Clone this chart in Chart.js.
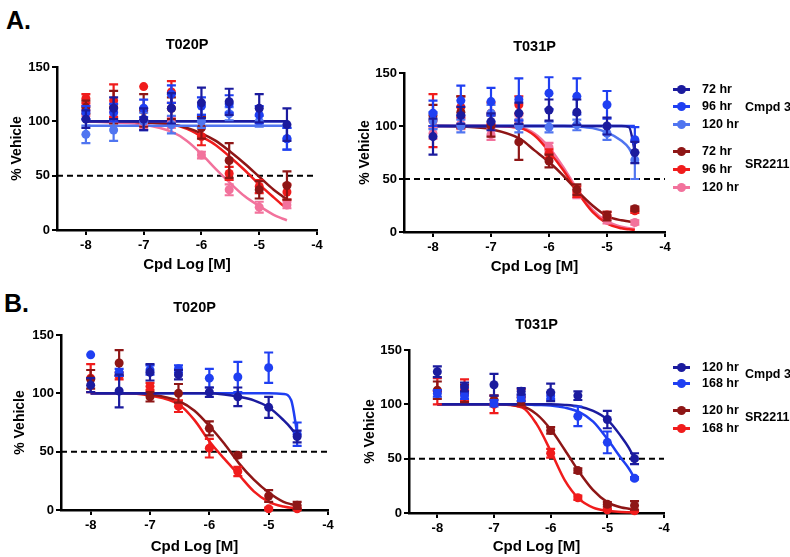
<!DOCTYPE html>
<html>
<head>
<meta charset="utf-8">
<title>Cmpd 3 vs SR2211 dose response</title>
<script src="https://cdn.jsdelivr.net/npm/chart.js@4.4.0/dist/chart.umd.min.js"></script>
<style>
  body { margin: 0; background: #fff; font-family: "Liberation Sans", Arial, sans-serif; }
  #wrap { position: relative; width: 790px; height: 557px; overflow: hidden; }
  #wrap canvas { position: absolute; }
  .tag { position: absolute; font-weight: bold; font-size: 25px; line-height: 25px; }
  .leg { position: absolute; font-weight: bold; font-size: 12.5px; line-height: 14px; white-space: nowrap; }
  .sw-line { position: absolute; width: 17px; height: 3px; }
  .sw-dot { position: absolute; width: 9px; height: 9px; border-radius: 50%; }
</style>
</head>
<body>
<div id="wrap">
  <div class="tag" style="left:6px; top:8px;">A.</div>
  <div class="tag" style="left:4px; top:291px;">B.</div>
  <canvas id="a020" width="330" height="245" style="left:0; top:30px;"></canvas>
  <canvas id="a031" width="330" height="245" style="left:345px; top:30px;"></canvas>
  <canvas id="b020" width="340" height="262" style="left:0; top:295px;"></canvas>
  <canvas id="b031" width="330" height="262" style="left:345px; top:295px;"></canvas>
</div>
<script>
// Dose response data (% vehicle)

// doses (log M) and fitted-curve sample positions
const doses = [-8, -7.52, -7, -6.52, -6, -5.52, -5, -4.52];
const fitX = [-8, -7.5, -7, -6.5, -6.25, -6, -5.75, -5.5, -5.25, -5, -4.75, -4.62, -4.52];
const xTicks = [-8, -7, -6, -5, -4];
const yTicks = [0, 50, 100, 150];

const seriesA = ['72 hr', '96 hr', '120 hr'];
const seriesB = ['120 hr', '168 hr'];
const compounds = ['Cmpd 3', 'SR2211'];

// Panel A, T020P - rows: Cmpd 3 72/96/120 hr, SR2211 72/96/120 hr
const a020Mean = [
    [102, 112, 102, 112, 117, 118, 112, 97],
    [108, 108, 112, 125, 114, 116, 106, 84],
    [88, 92, 100, 97, 100, 107, 100, 84],
    [113, 113, 110, 112, 94, 64, 37, 41],
    [121, 119, 132, 127, 86, 52, 40, 35],
    [110, 104, 97, 99, 69, 37, 21, 23]
];
const a020Sd = [
    [8, 10, 10, 14, 14, 12, 13, 15],
    [6, 8, 8, 8, 8, 8, 8, 10],
    [8, 10, 8, 8, 6, 6, 5, 10],
    [6, 15, 15, 10, 10, 16, 8, 13],
    [4, 15, 0, 10, 8, 6, 6, 7],
    [5, 5, 4, 5, 3, 5, 5, 3]
];
const a020Fit = [
    [100, 100, 100, 100, 100, 100, 100, 100, 100, 100, 100, 100, 100],
    [100, 100, 100, 100, 100, 100, 100, 100, 100, 100, 100, 100, 100],
    [96, 96, 96, 96, 96, 96, 96, 96, 96, 96, 96, 96, 96],
    [100, 100, 99, 97, 94, 89, 82, 72, 61, 49, 37, 32, 28],
    [100, 100, 99, 97, 93, 86, 78, 67, 55, 42, 30, 24, 20],
    [100, 99, 97, 90, 82, 70, 56, 43, 31, 22, 14, 11, 9]
];

// Panel A, T031P
const a031Mean = [
    [90, 110, 104, 112, 115, 113, 100, 75],
    [112, 124, 123, 125, 131, 128, 120, 87],
    [105, 100, 112, 100, 99, 101, 93, 68],
    [110, 113, 100, 85, 67, 40, 15, 22],
    [105, 118, 112, 120, 74, 38, 16, 20],
    [93, 102, 92, 105, 80, 36, 11, 9]
];
const a031Sd = [
    [17, 8, 8, 10, 10, 12, 8, 10],
    [12, 14, 13, 20, 15, 17, 13, 12],
    [8, 6, 8, 6, 5, 5, 6, 18],
    [10, 15, 10, 17, 6, 5, 4, 2],
    [25, 10, 10, 8, 4, 5, 3, 2],
    [5, 5, 5, 5, 4, 4, 3, 2]
];
const a031Fit = [
    [100, 100, 100, 100, 100, 100, 100, 100, 100, 100, 100, 99, 76],
    [100, 100, 100, 100, 100, 100, 100, 100, 100, 100, 100, 100, 100],
    [100, 100, 100, 100, 100, 100, 100, 99.5, 98, 94, 86, 79, 68],
    [100, 99.5, 97, 88, 77, 66, 53, 38, 25, 15, 11, 10, 9],
    [100, 100, 100, 98, 91, 76, 58, 37, 19, 8, 3.5, 2.5, 2],
    [100, 100, 100, 98.5, 93, 80, 61, 39, 21, 10, 5, 3.5, 3]
];

// Panel B, T020P - rows: Cmpd 3 120/168 hr, SR2211 120/168 hr
const b020Mean = [
    [107, 102, 118, 116, 101, 97, 88, 63],
    [133, 118, 120, 121, 113, 114, 122, 65],
    [112, 126, 97, 100, 70, 47, 12, 4],
    [113, 115, 106, 89, 53, 33, 1, 1]
];
const b020Sd = [
    [6, 14, 7, 4, 4, 8, 9, 5],
    [0, 3, 4, 3, 8, 13, 13, 10],
    [8, 11, 4, 8, 6, 2, 5, 3],
    [12, 3, 3, 5, 8, 4, 1, 1]
];
const b020Fit = [
    [100, 100, 100, 100, 100, 100, 99, 97, 94, 88, 77, 70, 63],
    [100, 100, 100, 100, 100, 100, 100, 100, 100, 100, 99.5, 94, 66],
    [100, 100, 99, 93, 85, 72, 57, 40, 26, 15, 7, 5, 4],
    [100, 100, 98, 90, 77, 59, 44, 30, 16, 7, 3, 2, 2]
];

// Panel B, T031P
const b031Mean = [
    [130, 116, 118, 112, 111, 108, 86, 50],
    [110, 108, 101, 106, 108, 89, 65, 32],
    [113, 110, 104, 103, 76, 39, 8, 7],
    [112, 113, 100, 106, 55, 14, 3, 2]
];
const b031Sd = [
    [5, 4, 10, 3, 8, 4, 8, 5],
    [3, 3, 3, 3, 3, 9, 10, 1],
    [8, 8, 4, 4, 3, 2, 2, 4],
    [12, 10, 8, 8, 4, 2, 1, 1]
];
const b031Fit = [
    [100, 100, 100, 100, 100, 100, 99.5, 98, 94, 86, 70, 60, 50],
    [100, 100, 100, 100, 99.5, 99, 97, 93, 84, 68, 50, 41, 32],
    [100, 100, 100, 98, 91, 77, 58, 38, 21, 10, 5, 4, 3],
    [100, 100, 100, 97, 82, 57, 30, 13, 5, 2, 1, 0.7, 0.5]
];

const colorsA = ['#1b1b9e', '#1f3ff2', '#5075f0', '#8e1616', '#f01c1c', '#f2729c'];
const colorsB = ['#1b1b9e', '#1f3ff2', '#8e1616', '#f01c1c'];
const FONT = '"Liberation Sans", Arial, sans-serif';

// error bars drawn just under each point dataset
const errorBars = {
    id: 'errorBars',
    beforeDatasetDraw(chart, args) {
        const ds = chart.data.datasets[args.index];
        if (!ds.errs) return;
        const ctx = chart.ctx;
        const y = chart.scales.y;
        ctx.save();
        ctx.strokeStyle = ds.borderColor;
        ctx.lineWidth = 2.2;
        args.meta.data.forEach((pt, i) => {
            const e = ds.errs[i];
            if (!e) return;
            const v = ds.data[i].y;
            const top = y.getPixelForValue(v + e);
            const bot = y.getPixelForValue(v - e);
            ctx.beginPath();
            ctx.moveTo(pt.x, top); ctx.lineTo(pt.x, bot);
            ctx.moveTo(pt.x - 4.5, top); ctx.lineTo(pt.x + 4.5, top);
            ctx.moveTo(pt.x - 4.5, bot); ctx.lineTo(pt.x + 4.5, bot);
            ctx.stroke();
        });
        ctx.restore();
    }
};

// 50% dashed line and titles
const decor = {
    id: 'decor',
    beforeDatasetsDraw(chart) {
        const {ctx, chartArea: a, scales: {y}} = chart;
        const py = y.getPixelForValue(50);
        ctx.save();
        ctx.setLineDash([6, 4]);
        ctx.lineWidth = 2;
        ctx.strokeStyle = '#000';
        ctx.beginPath();
        ctx.moveTo(a.left, py);
        ctx.lineTo(a.right, py);
        ctx.stroke();
        ctx.restore();
    },
    afterDraw(chart, args, o) {
        const {ctx, chartArea: a} = chart;
        const cx = (a.left + a.right) / 2;
        ctx.save();
        ctx.fillStyle = '#000';
        ctx.textAlign = 'center';
        ctx.textBaseline = 'middle';
        ctx.font = 'bold 14.5px ' + FONT;
        ctx.fillText(o.title, cx, a.top - o.titleGap);
        ctx.font = 'bold 15px ' + FONT;
        ctx.fillText('Cpd Log [M]', cx, a.bottom + o.xTitleGap);
        ctx.translate(a.left - o.yTitleGap, (a.top + a.bottom) / 2);
        ctx.rotate(-Math.PI / 2);
        ctx.font = 'bold 14px ' + FONT;
        ctx.fillText('% Vehicle', 0, 0);
        ctx.restore();
    }
};

function buildChart(id, title, means, sds, fits, colors, geo) {
    const datasets = [];
    means.forEach((row, s) => {
        datasets.push({
            data: row.map((v, i) => ({x: doses[i], y: v})),
            errs: sds[s],
            showLine: false,
            pointRadius: 4.5,
            pointHoverRadius: 4.5,
            pointBackgroundColor: colors[s],
            pointBorderWidth: 0,
            borderColor: colors[s],
            clip: false
        });
    });
    fits.forEach((row, s) => {
        datasets.push({
            data: row.map((v, i) => ({x: fitX[i], y: v})),
            showLine: true,
            pointRadius: 0,
            borderColor: colors[s],
            borderWidth: 2.5,
            cubicInterpolationMode: 'monotone',
            clip: false
        });
    });

    const tickFont = {family: FONT, size: 13, weight: 'bold'};
    new Chart(document.getElementById(id), {
        type: 'scatter',
        data: {datasets: datasets},
        options: {
            responsive: false,
            animation: false,
            events: [],
            layout: {padding: {left: 0, right: geo.pr, top: geo.pt, bottom: 0}},
            plugins: {
                legend: {display: false},
                tooltip: {enabled: false},
                decor: {title: title, titleGap: geo.titleGap, xTitleGap: geo.xTitleGap, yTitleGap: geo.yTitleGap}
            },
            scales: {
                x: {
                    type: 'linear',
                    min: -8.5,
                    max: -4,
                    afterBuildTicks: s => { s.ticks = xTicks.map(v => ({value: v})); },
                    afterFit: s => { s.height = geo.xh; },
                    ticks: {color: '#000', font: tickFont, padding: 3},
                    grid: {drawOnChartArea: false, color: '#000', lineWidth: 2, tickLength: 5},
                    border: {color: '#000', width: 2.5}
                },
                y: {
                    type: 'linear',
                    min: 0,
                    max: 150,
                    afterBuildTicks: s => { s.ticks = yTicks.map(v => ({value: v})); },
                    afterFit: s => { s.width = geo.yw; },
                    ticks: {color: '#000', font: tickFont, padding: 2},
                    grid: {drawOnChartArea: false, color: '#000', lineWidth: 2, tickLength: 5},
                    border: {color: '#000', width: 2.5}
                }
            }
        },
        plugins: [errorBars, decor]
    });
}

// HTML legend to the right of the T031P panels
function addLegend(labels, colors, rowsY, groupY) {
    const wrap = document.getElementById('wrap');
    labels.forEach((lab, i) => {
        const y = rowsY[i];
        const line = document.createElement('div');
        line.className = 'sw-line';
        line.style.cssText = `left:673px; top:${y - 1.5}px; background:${colors[i]};`;
        const dot = document.createElement('div');
        dot.className = 'sw-dot';
        dot.style.cssText = `left:677px; top:${y - 4.5}px; background:${colors[i]};`;
        const txt = document.createElement('div');
        txt.className = 'leg';
        txt.style.cssText = `left:702px; top:${y - 7}px;`;
        txt.textContent = lab;
        wrap.append(line, dot, txt);
    });
    compounds.forEach((c, i) => {
        const g = document.createElement('div');
        g.className = 'leg';
        g.style.cssText = `left:745px; top:${groupY[i] - 7}px;`;
        g.textContent = c;
        wrap.appendChild(g);
    });
}

buildChart('a020', 'T020P', a020Mean, a020Sd, a020Fit, colorsA,
    {pr: 13, pt: 37, yw: 57, xh: 45, titleGap: 22, xTitleGap: 35, yTitleGap: 40});
buildChart('a031', 'T031P', a031Mean, a031Sd, a031Fit, colorsA,
    {pr: 10, pt: 43, yw: 59, xh: 43, titleGap: 26, xTitleGap: 35, yTitleGap: 39});
buildChart('b020', 'T020P', b020Mean, b020Sd, b020Fit, colorsB,
    {pr: 12, pt: 40, yw: 61, xh: 47, titleGap: 27, xTitleGap: 37, yTitleGap: 41});
buildChart('b031', 'T031P', b031Mean, b031Sd, b031Fit, colorsB,
    {pr: 11, pt: 55, yw: 64, xh: 44, titleGap: 25, xTitleGap: 34, yTitleGap: 39});

addLegend(seriesA.concat(seriesA), colorsA, [89, 106, 124, 151, 169, 187], [107, 164]);
addLegend(seriesB.concat(seriesB), colorsB, [367, 383, 410, 428], [374, 417]);
</script>
</body>
</html>
